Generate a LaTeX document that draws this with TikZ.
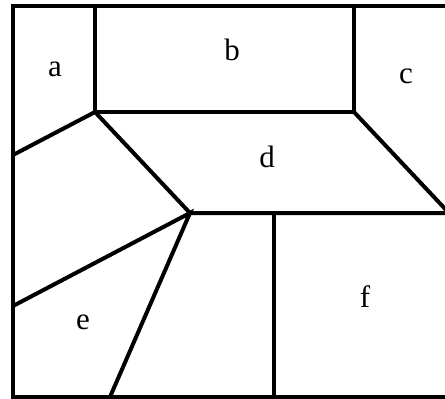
\documentclass[tikz,border=0pt]{standalone}
\usepackage{fontspec}
\setmainfont{Liberation Serif}
\begin{document}
\begin{tikzpicture}[x=1pt,y=-1pt,
  edge/.style={line width=4pt,line cap=butt,line join=miter},
  lbl/.style={font=\fontsize{31}{31}\selectfont,inner sep=0pt}]
\useasboundingbox (0,0) rectangle (445,399);
% key points
\coordinate (TL) at (13,6);
\coordinate (TR) at (449,6);
\coordinate (BL) at (13,397);
\coordinate (BR) at (449,397);
\coordinate (ab) at (95,6);
\coordinate (bc) at (354,6);
\coordinate (P1) at (95,112);
\coordinate (P2) at (354,112);
\coordinate (L1) at (13,155);
\coordinate (Q) at (190,213);
\coordinate (R1) at (449,213);
\coordinate (F1) at (274,213);
\coordinate (F2) at (274,397);
\coordinate (L2) at (13,306);
\coordinate (B1) at (110,397);
% outer frame
\draw[edge] (TL) -- (TR) -- (BR) -- (BL) -- cycle;
% inner lines
\draw[edge] (ab) -- (P1) -- (P2) -- (bc);
\draw[edge] (L1) -- (P1) -- (Q) -- (R1);
\draw[edge] (P2) -- (R1);
\draw[edge] (F1) -- (F2);
\draw[edge] (L2) -- (Q) -- (B1);
% labels
\node[lbl] (a) at (55,69) {a};
\node[lbl] (b) at (232,50) {b};
\node[lbl] (c) at (406,76) {c};
\node[lbl] (d) at (267,157) {d};
\node[lbl] (e) at (83,322) {e};
\node[lbl] (f) at (365,297) {f};
\end{tikzpicture}
\end{document}
